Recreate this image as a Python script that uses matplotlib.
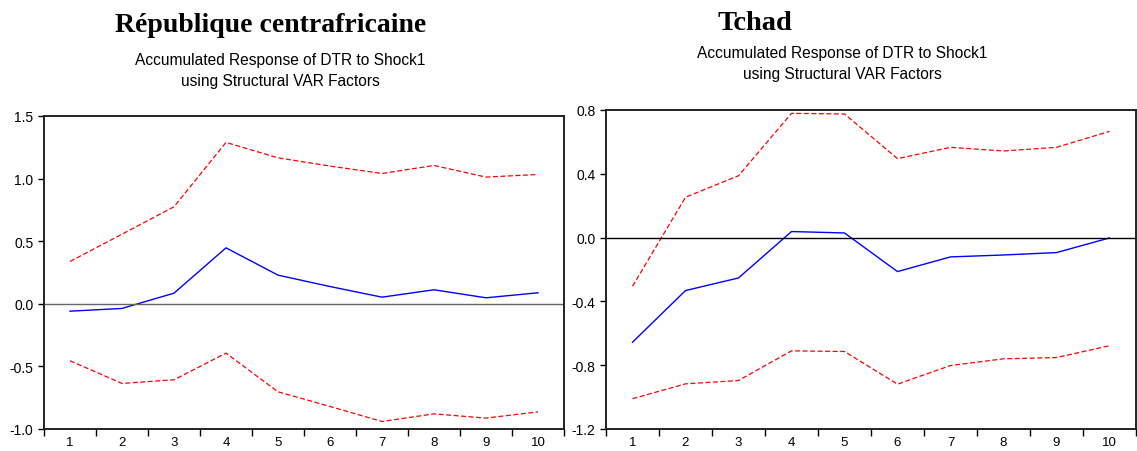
import matplotlib.pyplot as plt
from matplotlib.ticker import FixedLocator, NullFormatter

periods = [1, 2, 3, 4, 5, 6, 7, 8, 9, 10]

# République centrafricaine
rca_resp = [-0.059, -0.037, 0.085, 0.447, 0.229, 0.138, 0.053, 0.112, 0.048, 0.088]
rca_upper = [0.338, 0.556, 0.775, 1.289, 1.166, 1.100, 1.041, 1.105, 1.012, 1.033]
rca_lower = [-0.455, -0.636, -0.607, -0.394, -0.703, -0.820, -0.940, -0.879, -0.913, -0.863]

# Tchad
tcd_resp = [-0.656, -0.332, -0.253, 0.038, 0.029, -0.213, -0.121, -0.109, -0.094, -0.002]
tcd_upper = [-0.305, 0.253, 0.388, 0.779, 0.775, 0.495, 0.566, 0.543, 0.566, 0.666]
tcd_lower = [-1.010, -0.917, -0.896, -0.710, -0.714, -0.919, -0.802, -0.760, -0.752, -0.678]

subtitle = "Accumulated Response of DTR to Shock1\nusing Structural VAR Factors"

W, H = 1137, 452
fig = plt.figure(figsize=(W / 100, H / 100), dpi=100)
plt.rcParams['font.family'] = ['Liberation Sans', 'DejaVu Sans']


def panel(rect, resp, upper, lower, yticks, ylim, zero_color):
    ax = fig.add_axes(rect)
    ax.plot(periods, upper, color='red', lw=0.9, ls=(0, (4, 2)))
    ax.plot(periods, lower, color='red', lw=0.9, ls=(0, (4, 2)))
    ax.plot(periods, resp, color='blue', lw=1.0)
    ax.axhline(0, color=zero_color, lw=1.0)
    ax.set_xlim(0.5, 10.5)
    ax.set_ylim(*ylim)
    ax.xaxis.set_major_locator(FixedLocator([i + 0.5 for i in range(0, 11)]))
    ax.xaxis.set_major_formatter(NullFormatter())
    ax.xaxis.set_minor_locator(FixedLocator(periods))
    ax.set_xticklabels([str(p) for p in periods], minor=True)
    ax.tick_params(axis='x', which='major', length=5, width=1, direction='out')
    ax.tick_params(axis='x', which='minor', length=0, pad=5, labelsize=9.5)
    ax.set_yticks(yticks)
    ax.set_yticklabels(['%.1f' % v for v in yticks])
    ax.tick_params(axis='y', length=4, width=1, direction='out', labelsize=10)
    for s in ax.spines.values():
        s.set_linewidth(1.4)
        s.set_color('#222222')
    return ax


panel([44 / W, 22 / H, 520 / W, 313 / H], rca_resp, rca_upper, rca_lower,
      [1.5, 1.0, 0.5, 0.0, -0.5, -1.0], (-1.0, 1.5), '#666666')
panel([606 / W, 22 / H, 530 / W, 319 / H], tcd_resp, tcd_upper, tcd_lower,
      [0.8, 0.4, 0.0, -0.4, -0.8, -1.2], (-1.2, 0.8), 'black')

fig.text(271 / W, 1 - 25 / H, "République centrafricaine", ha='center', va='center',
         fontsize=20, fontweight='bold', family=['Liberation Serif', 'DejaVu Serif'])
fig.text(755 / W, 1 - 24 / H, "Tchad", ha='center', va='center',
         fontsize=20.5, fontweight='bold', family=['Liberation Serif', 'DejaVu Serif'])
fig.text(280 / W, 1 - 71 / H, subtitle, ha='center', va='center', fontsize=11.2,
         linespacing=1.55)
fig.text(842 / W, 1 - 64 / H, subtitle, ha='center', va='center', fontsize=11.2,
         linespacing=1.55)

fig.savefig('out.png', dpi=100)
